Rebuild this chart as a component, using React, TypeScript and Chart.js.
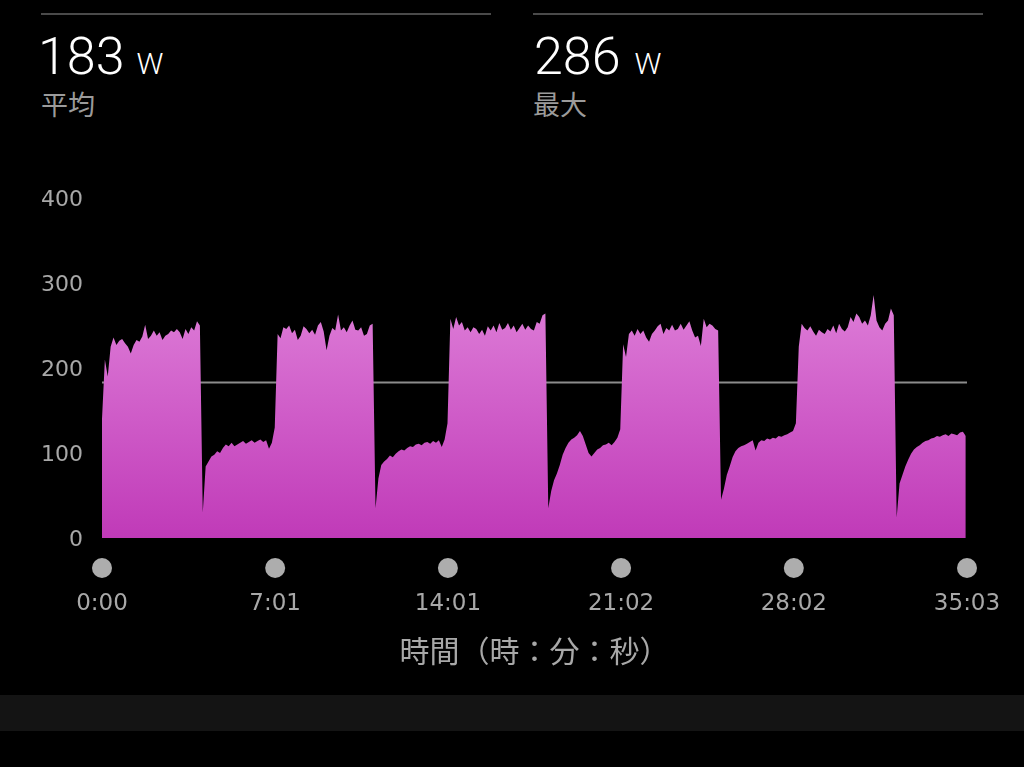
import React, { useEffect, useRef } from "react";
import { Chart, registerables } from "chart.js";

Chart.register(...registerables);

// ---- data ----
const SAMPLE_SECONDS = 7; // one power reading every 7 s
const TOTAL_SECONDS = 2103; // 35:03

const watts: number[] = [
  140, 210, 190, 225, 236, 227, 232, 234, 229, 225,
  217, 227, 233, 231, 237, 251, 234, 238, 244, 238,
  242, 233, 238, 240, 244, 242, 246, 242, 234, 246,
  240, 248, 244, 255, 250, 30,
  84, 90, 96, 98, 102, 100, 106, 110, 108, 112, 108, 110,
  112, 114, 111, 113, 115, 112, 114, 116, 113, 115, 105, 112, 130,
  240, 235, 248, 246, 250, 241, 245, 233, 238, 249,
  246, 241, 245, 239, 250, 254, 243, 221, 238, 247,
  244, 263, 244, 248, 242, 250, 256, 245, 244, 248,
  238, 240, 250, 252, 35,
  70, 86, 90, 93, 97, 95, 99, 102, 104, 103,
  106, 108, 107, 110, 111, 109, 112, 113, 111, 114,
  112, 115, 107, 116, 135,
  258, 246, 260, 250, 254, 244, 248, 242, 248, 246,
  240, 245, 238, 249, 244, 250, 242, 253, 245, 247,
  253, 245, 250, 242, 247, 252, 245, 250, 246, 244,
  254, 252, 262, 264, 35,
  55, 68, 76, 86, 98, 106, 112, 116, 118, 121,
  126, 120, 110, 100, 96, 100, 104, 106, 109, 110,
  112, 109, 113, 118, 128,
  228, 213, 240, 244, 238, 246, 240, 244, 236, 231,
  240, 244, 249, 252, 240, 247, 244, 251, 244, 246,
  252, 245, 250, 255, 244, 236, 238, 226, 258, 248,
  252, 250, 246, 244, 45,
  58, 74, 84, 95, 102, 106, 108, 109, 111, 113,
  115, 103, 112, 115, 114, 117, 116, 118, 117, 120,
  119, 121, 122, 124, 126, 135, 225,
  252, 247, 244, 249, 243, 238, 245, 242, 240, 246,
  243, 250, 241, 252, 246, 243, 248, 260, 254, 264,
  260, 252, 256, 250, 262, 286, 256, 248, 244, 252,
  256, 270, 262, 24,
  64, 74, 84, 92, 99, 104, 107, 109, 112, 114,
  115, 117, 118, 120, 119, 121, 122, 120, 123, 122,
  121, 124, 125, 120,
];

const tickSeconds = [0, 421, 841, 1262, 1682, 2103];
const tickLabels = ["0:00", "7:01", "14:01", "21:02", "28:02", "35:03"];
const yMax = 400;
const yStep = 100;

const summaryValues = [183, 286];
const summaryLabels = ["平均", "最大"];
const unit = "W";
const axisTitle = "時間（時：分：秒）";

const GREY = "#a8a8a8";

export default function App() {
  const ref = useRef<HTMLCanvasElement>(null);

  useEffect(() => {
    const canvas = ref.current;
    if (!canvas) return;
    const avg = summaryValues[0];

    const tickDots = {
      id: "tickDots",
      afterDraw(chart: any) {
        const xs = chart.scales.x;
        const c = chart.ctx;
        c.save();
        c.fillStyle = "#adadad";
        for (const t of tickSeconds) {
          const px = xs.getPixelForValue(t);
          c.beginPath();
          c.arc(px, chart.chartArea.bottom + 30, 10, 0, Math.PI * 2);
          c.fill();
        }
        c.restore();
      },
    };

    const chart = new Chart(canvas, {
      type: "line",
      data: {
        datasets: [
          {
            data: watts.map((w, i) => ({ x: i * SAMPLE_SECONDS, y: w })),
            fill: "origin",
            borderWidth: 0,
            borderColor: "rgba(0,0,0,0)",
            pointRadius: 0,
            tension: 0,
            backgroundColor: (ctx: any) => {
              const { chart: ch } = ctx;
              const area = ch.chartArea;
              if (!area) return "#d060c8";
              const ys = ch.scales.y;
              const g = ch.ctx.createLinearGradient(0, ys.getPixelForValue(290), 0, ys.getPixelForValue(0));
              g.addColorStop(0, "#de7ed8");
              g.addColorStop(1, "#c03ab8");
              return g;
            },
          },
          {
            data: [
              { x: 0, y: avg },
              { x: TOTAL_SECONDS, y: avg },
            ],
            borderColor: "rgba(255,255,255,0.55)",
            borderWidth: 2,
            pointRadius: 0,
            fill: false,
          },
        ],
      },
      options: {
        animation: false,
        responsive: false,
        maintainAspectRatio: false,
        layout: { padding: { left: 0, right: 57, top: 198, bottom: 0 } },
        plugins: {
          legend: { display: false },
          tooltip: { enabled: false },
        },
        scales: {
          x: {
            type: "linear",
            min: 0,
            max: TOTAL_SECONDS,
            grid: {
              display: true,
              drawOnChartArea: false,
              drawTicks: true,
              tickLength: 42,
              color: "rgba(0,0,0,0)",
            },
            border: { display: false },
            afterBuildTicks: (s: any) => {
              s.ticks = tickSeconds.map((v) => ({ value: v }));
            },
            afterFit: (s: any) => {
              s.height = 152;
            },
            ticks: {
              autoSkip: false,
              maxRotation: 0,
              minRotation: 0,
              padding: 10,
              color: GREY,
              font: { family: "'DejaVu Sans', sans-serif", size: 23 },
              callback: (_v: any, i: number) => tickLabels[i],
            },
            title: {
              display: true,
              text: axisTitle,
              color: GREY,
              font: { family: "'Noto Sans CJK JP', sans-serif", size: 30 },
              padding: { top: 0, bottom: 21 },
            },
          },
          y: {
            min: 0,
            max: yMax,
            grid: { display: false, drawTicks: false },
            border: { display: false },
            afterFit: (s: any) => {
              s.width = 102;
            },
            ticks: {
              stepSize: yStep,
              padding: 19,
              labelOffset: 2,
              color: GREY,
              font: { family: "'DejaVu Sans', sans-serif", size: 22 },
            },
          },
        },
      },
      plugins: [tickDots],
    } as any);

    return () => chart.destroy();
  }, []);

  return (
    <div
      style={{
        position: "fixed",
        left: 0,
        top: 0,
        width: 1024,
        height: 767,
        background: "#000",
        overflow: "hidden",
      }}
    >
      {summaryValues.map((v, k) => (
        <div key={k} style={{ position: "absolute", left: 41 + k * 492, top: 0, width: 450, height: 130 }}>
          <div style={{ position: "absolute", left: 0, top: 13, width: 450, height: 2, background: "#4a4a4a" }} />
          <div
            style={{
              position: "absolute",
              left: k === 0 ? -3 : 1,
              top: 31,
              display: "flex",
              alignItems: "baseline",
              color: "#fff",
              fontFamily: "Roboto, sans-serif",
              fontWeight: 300,
              lineHeight: 1,
              whiteSpace: "nowrap",
            }}
          >
            <span style={{ fontSize: 52 }}>{v}</span>
            <span style={{ fontSize: 30, marginLeft: k === 0 ? 12 : 14 }}>{unit}</span>
          </div>
          <div
            style={{
              position: "absolute",
              left: 0,
              top: 90,
              fontFamily: "'Noto Sans CJK JP', sans-serif",
              fontSize: 27,
              lineHeight: "27px",
              color: "#9b9b9b",
              whiteSpace: "nowrap",
            }}
          >
            {summaryLabels[k]}
          </div>
        </div>
      ))}
      <canvas
        ref={ref}
        width={1024}
        height={690}
        style={{ position: "absolute", left: 0, top: 0, width: 1024, height: 690 }}
      />
      <div style={{ position: "absolute", left: 0, top: 695, width: 1024, height: 36, background: "#141414" }} />
    </div>
  );
}
